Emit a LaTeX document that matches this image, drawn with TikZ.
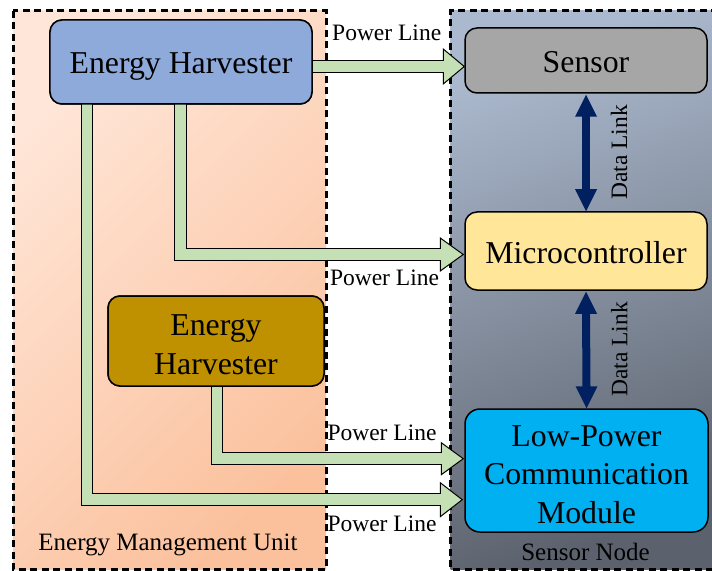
\documentclass[tikz,border=0pt]{standalone}
\usepackage{fontspec}
\setmainfont{LiberationSerif}[Extension=.ttf, UprightFont=*-Regular, BoldFont=*-Bold, ItalicFont=*-Italic, BoldItalicFont=*-BoldItalic]
\usetikzlibrary{calc}
\definecolor{ehblue}{HTML}{8EAADB}
\definecolor{sgray}{HTML}{A6A6A6}
\definecolor{myellow}{HTML}{FFE699}
\definecolor{goldbox}{HTML}{BF9000}
\definecolor{cyanbox}{HTML}{00B0F0}
\definecolor{pgreen}{HTML}{C5E0B4}
\definecolor{navyline}{HTML}{002060}
\definecolor{emutop}{HTML}{FFE6D8}
\definecolor{emubot}{HTML}{FBC19D}
\definecolor{sntop}{HTML}{ABB9CE}
\definecolor{snbot}{HTML}{5C626D}
\begin{document}
\begin{tikzpicture}[x=1bp,y=-1bp,
  box/.style={draw=black, line width=1.5bp, rounded corners=12bp, font=\fontsize{31.8bp}{38.5bp}\selectfont, align=center, inner sep=0pt},
  oneline/.style={text height=24bp, text depth=0pt},
  frame/.style={draw=black, line width=3bp, dash pattern=on 7bp off 4.5bp},
  pshaft/.style={draw=black, line width=1bp, double=pgreen, double distance=10.5bp},
  phead/.style={draw=black, line width=1bp, fill=pgreen, line join=miter},
  dshaft/.style={draw=navyline, line width=8bp},
  dhead/.style={fill=navyline},
  lbl/.style={font=\fontsize{23.5bp}{28bp}\selectfont, inner sep=0pt},
  grp/.style={font=\fontsize{25bp}{30bp}\selectfont, inner sep=0pt}
]
\useasboundingbox (0,0) rectangle (712,571);

% group frames
\path[top color=emutop, bottom color=emubot, shading angle=45] (13,11) rectangle (326,569);
\draw[frame] (13,11) rectangle (326,569);
\path[top color=sntop, bottom color=snbot, shading angle=20] (450.5,11) rectangle (718,569);
\draw[frame] (718,11) -- (450.5,11) -- (450.5,569) -- (718,569);

% boxes
\node[box, oneline, fill=ehblue, minimum width=262bp, minimum height=84bp] (eh) at (181,62) {Energy Harvester};
\node[box, oneline, fill=sgray, minimum width=242bp, minimum height=65bp] (sensor) at (586,60.5) {Sensor};
\node[box, oneline, fill=myellow, minimum width=242bp, minimum height=78bp] (mcu) at (586,251) {Microcontroller};
\node[box, fill=goldbox, minimum width=216bp, minimum height=90bp] (eh2) at (216,341) {\rule{0pt}{28bp}Energy\\Harvester};
\node[box, fill=cyanbox, rounded corners=15bp, minimum width=243bp, minimum height=123bp] (lpcm) at (586.5,470.5) {\rule{0pt}{29bp}Low-Power\\Communication\\Module};

% power lines
\coordinate (a1s) at ($(eh.east)+(-2,4.5)$);
\coordinate (a1t) at (sensor.west |- a1s);
\draw[phead] (a1t) -- ++(-21,-17.5) -- ++(0,35) -- cycle;
\draw[pshaft] (a1s) -- ($(a1t)+(-20,0)$);

\coordinate (a2t) at ($(mcu.west)+(-1,3.5)$);
\draw[phead] (a2t) -- ++(-23,-16.5) -- ++(0,33) -- cycle;
\draw[pshaft] ($(eh.south)+(-0.5,-2)$) |- ($(a2t)+(-22,0)$);

\coordinate (a3t) at ($(lpcm.west)+(-1,-11.8)$);
\draw[phead] (a3t) -- ++(-22,-16) -- ++(0,32) -- cycle;
\draw[pshaft] ($(eh2.south)+(1,-2)$) |- ($(a3t)+(-21,0)$);

\coordinate (a4t) at ($(lpcm.west)+(-2,29.2)$);
\draw[phead] (a4t) -- ++(-22,-17) -- ++(0,34) -- cycle;
\draw[pshaft] ($(eh.south)+(-94,-2)$) |- ($(a4t)+(-21,0)$);

% redraw boxes on top of shaft starts
\node[box, oneline, fill=ehblue, minimum width=262bp, minimum height=84bp] at (eh) {Energy Harvester};
\node[box, fill=goldbox, minimum width=216bp, minimum height=90bp] at (eh2) {\rule{0pt}{28bp}Energy\\Harvester};

% data links
\draw[dshaft] ($(sensor.south)+(0,21)$) -- ($(mcu.north)+(0,-21)$);
\fill[dhead] ($(sensor.south)+(0,1)$) -- ++(-11,22) -- ++(22,0) -- cycle;
\fill[dhead] (mcu.north) -- ++(-11,-22) -- ++(22,0) -- cycle;
\draw[dshaft] ($(mcu.south)+(0,21)$) -- ($(lpcm.north)+(0,-21)$);
\fill[dhead] ($(mcu.south)+(0,1)$) -- ++(-11,22) -- ++(22,0) -- cycle;
\fill[dhead] (lpcm.north) -- ++(-11,-22) -- ++(22,0) -- cycle;
\node[lbl, rotate=90] (dl1) at ($(sensor.south)!0.5!(mcu.north)+(33,0)$) {Data Link};
\node[lbl, rotate=90] (dl2) at ($(mcu.south)!0.5!(lpcm.north)+(33,0)$) {Data Link};

% labels
\node[lbl, anchor=base] (pl1) at (386.7,40.7) {Power Line};
\node[lbl, anchor=base] (pl2) at (384.5,285) {Power Line};
\node[lbl, anchor=base] (pl3) at (382,440) {Power Line};
\node[lbl, anchor=base] (pl4) at (382,531) {Power Line};
\node[grp, anchor=base] (emulbl) at (168,550) {Energy Management Unit};
\node[grp, anchor=base] (snlbl) at (585.5,560.7) {Sensor Node};
\end{tikzpicture}
\end{document}
